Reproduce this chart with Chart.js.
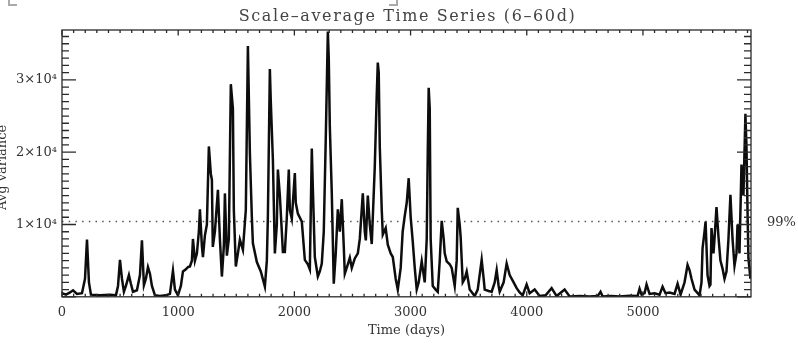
<!DOCTYPE html>
<html>
<head>
<meta charset="utf-8">
<script src="https://cdn.jsdelivr.net/npm/chart.js@4.4.1/dist/chart.umd.min.js"></script>
<style>
  html, body { margin: 0; padding: 0; background: #fff; }
  #wrap { width: 798px; height: 346px; }
</style>
</head>
<body>
<div id="wrap"><canvas id="chart"></canvas></div>
<script>
// Scale-average variance (6-60 day band)
const days = [
    0, 34, 69, 95, 129, 172, 198, 215, 232, 249,
    327, 413, 464, 482, 499, 516, 533, 550, 576, 593,
    611, 645, 671, 688, 705, 722, 740, 757, 774, 800,
    843, 894, 929, 955, 972, 998, 1023, 1041, 1066, 1084,
    1101, 1118, 1127, 1144, 1161, 1178, 1187, 1204, 1213, 1230,
    1247, 1264, 1281, 1290, 1298, 1316, 1342, 1359, 1376, 1393,
    1402, 1419, 1436, 1453, 1471, 1479, 1496, 1514, 1531, 1557,
    1582, 1600, 1617, 1634, 1643, 1677, 1711, 1746, 1763, 1772,
    1789, 1797, 1815, 1832, 1849, 1858, 1875, 1892, 1901, 1918,
    1935, 1952, 1961, 1978, 2004, 2012, 2030, 2064, 2090, 2116,
    2133, 2150, 2159, 2176, 2202, 2219, 2236, 2253, 2270, 2288,
    2296, 2305, 2322, 2339, 2356, 2374, 2391, 2408, 2425, 2434,
    2460, 2477, 2494, 2520, 2546, 2563, 2589, 2606, 2615, 2632,
    2649, 2666, 2692, 2709, 2718, 2726, 2735, 2752, 2761, 2786,
    2804, 2829, 2847, 2872, 2890, 2915, 2932, 2949, 2967, 2984,
    3001, 3019, 3036, 3053, 3070, 3096, 3122, 3139, 3148, 3156,
    3165, 3173, 3191, 3216, 3234, 3251, 3268, 3285, 3294, 3311,
    3337, 3354, 3380, 3397, 3406, 3423, 3431, 3449, 3466, 3483,
    3509, 3552, 3578, 3612, 3629, 3638, 3672, 3698, 3724, 3741,
    3758, 3767, 3801, 3827, 3853, 3887, 3913, 3939, 3965, 3999,
    4025, 4068, 4111, 4162, 4214, 4257, 4326, 4369, 4455, 4541,
    4610, 4635, 4653, 4730, 4799, 4885, 4954, 4971, 4988, 5014,
    5031, 5057, 5100, 5143, 5169, 5194, 5229, 5272, 5298, 5324,
    5358, 5384, 5401, 5418, 5444, 5487, 5504, 5513, 5530, 5539,
    5556, 5573, 5581, 5590, 5607, 5616, 5633, 5650, 5667, 5685,
    5702, 5719, 5736, 5753, 5771, 5788, 5805, 5814, 5831, 5848,
    5865, 5882, 5891, 5900, 5908, 5925
];
const variance = [
    500, 300, 600, 900, 400, 500, 2500, 7900, 2000, 300,
    200, 300, 200, 1500, 5100, 2500, 700, 1500, 3000, 1800,
    700, 900, 3000, 7800, 1600, 2500, 4100, 3200, 1500, 200,
    100, 200, 400, 3600, 1000, 200, 1500, 3500, 3800, 4100,
    4200, 5000, 8000, 5000, 6000, 9000, 12100, 7000, 5500, 8500,
    10000, 20800, 17000, 16200, 6900, 9000, 14800, 8000, 2800, 7000,
    14300, 5700, 8000, 29400, 26000, 12000, 4200, 6000, 7900, 6500,
    12000, 34700, 19900, 11000, 7400, 4800, 3500, 1400, 5000, 11100,
    31500, 27000, 19000, 6000, 10000, 17600, 14000, 9000, 6200, 6200,
    11000, 17600, 12000, 10800, 17100, 13000, 11500, 10400, 5100, 4500,
    3800, 20500, 15000, 5500, 2800, 3500, 4600, 9000, 21800, 36700,
    33000, 23600, 14300, 1800, 6000, 12100, 9000, 13500, 7000, 3200,
    4500, 5400, 4000, 5300, 6000, 8000, 14300, 9000, 7800, 14000,
    10000, 7300, 18000, 28000, 32400, 31000, 20800, 12000, 8600, 9500,
    7200, 6000, 5500, 2500, 1000, 4000, 9000, 11100, 13000, 16400,
    11000, 7600, 4000, 1000, 2000, 4900, 2000, 8000, 20000, 28900,
    26000, 8000, 1500, 1000, 700, 5000, 10500, 8000, 6000, 4900,
    4500, 4000, 1500, 5000, 12300, 10000, 8300, 2000, 2500, 3500,
    1000, 100, 1000, 5100, 2500, 1000, 800, 700, 2000, 3700,
    1500, 700, 2000, 4600, 3000, 2000, 1200, 600, 200, 1700,
    500, 1000, 100, 200, 1200, 100, 1000, 50, 100, 50,
    100, 700, 50, 100, 50, 150, 100, 1100, 300, 500,
    1700, 400, 500, 300, 1400, 500, 600, 400, 1800, 300,
    2000, 4400, 3700, 2500, 1000, 200, 2000, 6700, 9000, 10400,
    3000, 1500, 1700, 9500, 6000, 8000, 12400, 8300, 5000, 3900,
    2500, 3500, 8000, 14100, 8000, 4300, 6000, 10000, 6000, 18300,
    14000, 25300, 20800, 12000, 5300, 2500
];

const xMax = 5930;
const yMax = 36900;
const xTickValues = [0, 1000, 2000, 3000, 4000, 5000];
const yTickValues = [10000, 20000, 30000];
const yTickLabels = ['1\u00d710\u2074', '2\u00d710\u2074', '3\u00d710\u2074'];
const sigLevel = 10400;
const sigLabel = '99%';
const chartTitle = 'Scale\u2013average Time Series (6\u201360d)';

const serif = 'DejaVu Serif';

// IDL-style frame: box with inward major/minor ticks on all four sides
const idlFrame = {
    id: 'idlFrame',
    afterDatasetsDraw(chart) {
        const { ctx, chartArea: a, scales: { x, y } } = chart;
        ctx.save();
        ctx.strokeStyle = '#2a2a2a';
        ctx.lineWidth = 1.3;
        ctx.strokeRect(a.left, a.top, a.right - a.left, a.bottom - a.top);

        ctx.beginPath();
        for (let d = 0; d <= xMax; d += 100) {
            const px = x.getPixelForValue(d);
            const len = d % 1000 === 0 ? 5.5 : 3;
            ctx.moveTo(px, a.bottom); ctx.lineTo(px, a.bottom - len);
            ctx.moveTo(px, a.top); ctx.lineTo(px, a.top + len);
        }
        for (let v = 0; v <= yMax; v += 1000) {
            const py = y.getPixelForValue(v);
            const len = v % 10000 === 0 ? 14 : 7;
            ctx.moveTo(a.left, py); ctx.lineTo(a.left + len, py);
            ctx.moveTo(a.right, py); ctx.lineTo(a.right - len, py);
        }
        ctx.stroke();

        ctx.fillStyle = '#333';
        ctx.textBaseline = 'middle';

        // title, spaced out like the Hershey font of the original
        ctx.save();
        ctx.font = '16px "' + serif + '"';
        ctx.fillStyle = '#444';
        ctx.letterSpacing = '1.6px';
        ctx.textAlign = 'center';
        ctx.fillText(chartTitle, (a.left + a.right) / 2 + 1, 17);
        ctx.restore();

        // significance label
        ctx.font = '13px "' + serif + '"';
        ctx.textAlign = 'left';
        ctx.fillText(sigLabel, a.right + 16, y.getPixelForValue(sigLevel) + 1);

        // y axis title, partly cut at the left edge as in the source
        ctx.save();
        ctx.translate(3, (a.top + a.bottom) / 2 + 4);
        ctx.rotate(-Math.PI / 2);
        ctx.textAlign = 'center';
        ctx.fillText('Avg variance', 0, 0);
        ctx.restore();

        // grey bracket fragments along the top edge
        ctx.strokeStyle = '#aaa';
        ctx.lineWidth = 2;
        ctx.beginPath();
        ctx.moveTo(9, 0); ctx.lineTo(9, 5); ctx.lineTo(17, 5);
        ctx.moveTo(389, 5); ctx.lineTo(397, 5); ctx.lineTo(397, 0);
        ctx.stroke();
        ctx.restore();
    }
};

const ctx = document.getElementById('chart').getContext('2d');
new Chart(ctx, {
    type: 'line',
    data: {
        datasets: [{
            data: days.map((d, i) => ({ x: d, y: variance[i] })),
            borderColor: '#0d0d0d',
            borderWidth: 2.5,
            pointRadius: 0,
            tension: 0,
            fill: false
        }, {
            data: [{ x: 0, y: sigLevel }, { x: xMax, y: sigLevel }],
            borderColor: '#555',
            borderWidth: 1.5,
            borderDash: [1.5, 5.2],
            pointRadius: 0,
            fill: false
        }]
    },
    options: {
        responsive: true,
        maintainAspectRatio: false,
        animation: false,
        layout: { padding: { left: 0, right: 47, top: 30, bottom: 4 } },
        plugins: {
            legend: { display: false },
            tooltip: { enabled: false },
            title: { display: false }
        },
        scales: {
            x: {
                type: 'linear',
                min: 0,
                max: xMax,
                grid: { display: false, drawTicks: false },
                border: { display: false },
                afterBuildTicks: (scale) => {
                    scale.ticks = xTickValues.map(v => ({ value: v }));
                },
                ticks: {
                    color: '#333',
                    padding: 8,
                    maxRotation: 0,
                    font: { family: serif, size: 13 },
                    callback: (v) => String(v)
                },
                title: {
                    display: true,
                    text: 'Time (days)',
                    color: '#333',
                    font: { family: serif, size: 13 },
                    padding: { top: -6, bottom: 4 }
                }
            },
            y: {
                type: 'linear',
                min: 0,
                max: yMax,
                grid: { display: false, drawTicks: false },
                border: { display: false },
                afterBuildTicks: (scale) => {
                    scale.ticks = yTickValues.map(v => ({ value: v }));
                },
                afterFit: (scale) => { scale.width = 62; },
                ticks: {
                    color: '#333',
                    padding: 5,
                    font: { family: serif, size: 13 },
                    callback: (v) => yTickLabels[yTickValues.indexOf(v)] || ''
                }
            }
        }
    },
    plugins: [idlFrame]
});
</script>
</body>
</html>
